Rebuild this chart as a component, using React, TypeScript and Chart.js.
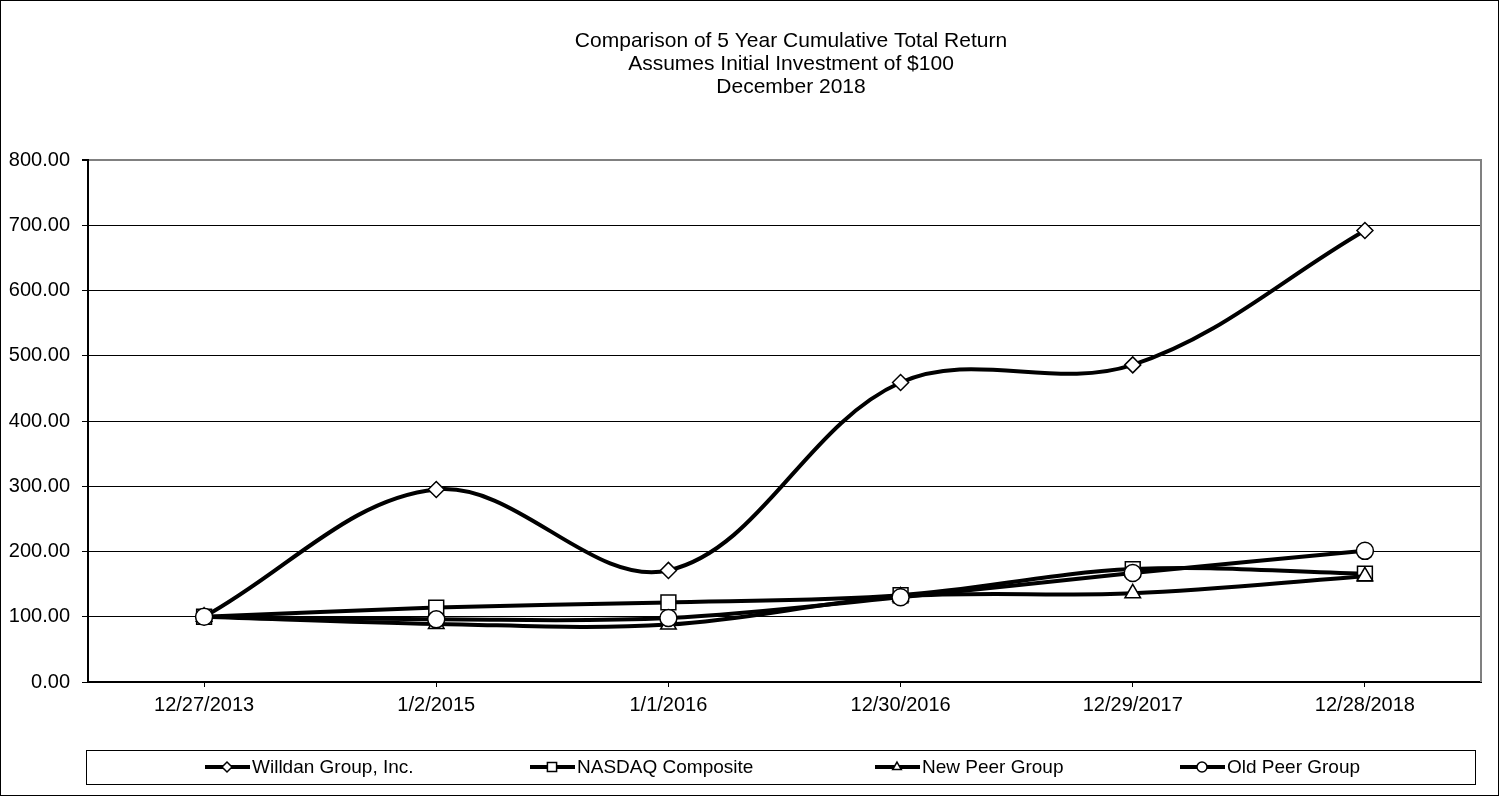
import React, { useEffect, useRef } from 'react';
import { Chart, registerables } from 'chart.js';
import { drawPoint } from 'chart.js/helpers';

Chart.register(...registerables);

const categories = ['12/27/2013', '1/2/2015', '1/1/2016', '12/30/2016', '12/29/2017', '12/28/2018'];
const willdan = [100, 295, 171, 459, 486, 692];
const nasdaq = [100, 114, 122, 133, 173, 166];
const newPeer = [100, 89, 88, 131, 136, 162];
const oldPeer = [100, 96, 98, 130, 167, 201];
const seriesNames = ['Willdan Group, Inc.', 'NASDAQ Composite', 'New Peer Group', 'Old Peer Group'];
const titleLines = ['Comparison of 5 Year Cumulative Total Return', 'Assumes Initial Investment of $100', 'December 2018'];
const yMin = 0;
const yMax = 800;
const yStep = 100;

const FONT = '"Liberation Sans", Arial, sans-serif';
const W = 1500;
const H = 797;

const pointStyles = ['rectRot', 'rect', 'triangle', 'circle'];
const pointRadii = [8, 10.5, 9, 8.5];
const legendStarts = [205, 530, 875, 1180];

const framePlugin = {
  id: 'framePlugin',
  beforeDraw(chart: any) {
    const ctx = chart.ctx;
    ctx.save();
    ctx.fillStyle = '#fff';
    ctx.fillRect(0, 0, chart.width, chart.height);
    ctx.restore();
  },
  afterDraw(chart: any) {
    const ctx = chart.ctx;
    const ca = chart.chartArea;
    ctx.save();
    // right plot border (grey)
    ctx.strokeStyle = '#808080';
    ctx.lineWidth = 2;
    ctx.beginPath();
    ctx.moveTo(ca.right, ca.top - 1);
    ctx.lineTo(ca.right, ca.bottom);
    ctx.stroke();
    // outer border
    ctx.strokeStyle = '#000';
    ctx.lineWidth = 1;
    ctx.strokeRect(0.5, 0.5, 1498, 795);
    // titles
    ctx.fillStyle = '#000';
    ctx.font = `21px ${FONT}`;
    ctx.textAlign = 'center';
    ctx.textBaseline = 'middle';
    const tys = [41, 64, 87];
    titleLines.forEach((t, i) => ctx.fillText(t, 791, tys[i]));
    // legend
    ctx.strokeStyle = '#000';
    ctx.lineWidth = 1;
    ctx.strokeRect(86.5, 750.5, 1389, 34);
    const ly = 767;
    ctx.font = `19px ${FONT}`;
    ctx.textAlign = 'left';
    chart.data.datasets.forEach((ds: any, i: number) => {
      const x0 = legendStarts[i];
      ctx.strokeStyle = '#000';
      ctx.lineWidth = 4;
      ctx.beginPath();
      ctx.moveTo(x0, ly);
      ctx.lineTo(x0 + 45, ly);
      ctx.stroke();
      ctx.fillStyle = '#fff';
      ctx.strokeStyle = '#000';
      ctx.lineWidth = 1.5;
      drawPoint(ctx, { pointStyle: ds.pointStyle, radius: ds.pointStyle === 'rect' ? 6.5 : 5, rotation: 0, borderWidth: 1.5 }, x0 + 22, ly);
      ctx.fillStyle = '#000';
      ctx.fillText(ds.label, x0 + 47, ly + 1);
    });
    ctx.restore();
  },
};

export default function App() {
  const ref = useRef<HTMLCanvasElement>(null);
  useEffect(() => {
    const seriesValues = [willdan, nasdaq, newPeer, oldPeer];
    const orders = [3, 2, 1, 0];
    const chart = new Chart(ref.current as HTMLCanvasElement, {
      type: 'line',
      data: {
        labels: categories,
        datasets: seriesValues.map((vals, i) => ({
          label: seriesNames[i],
          data: vals,
          borderColor: '#000',
          borderWidth: 4,
          tension: 0.36,
          fill: false,
          pointStyle: pointStyles[i] as any,
          pointRadius: pointRadii[i],
          pointBackgroundColor: '#fff',
          pointBorderColor: '#000',
          pointBorderWidth: 1.5,
          order: orders[i],
        })),
      },
      options: {
        animation: false,
        responsive: false,
        devicePixelRatio: 1,
        layout: { padding: { left: 0, right: 19, top: 160, bottom: 75 } },
        plugins: {
          legend: { display: false },
          title: { display: false },
          tooltip: { enabled: false },
        },
        scales: {
          x: {
            type: 'category',
            offset: true,
            afterFit(scale: any) { scale.height = 40; },
            grid: { drawOnChartArea: false, drawTicks: true, tickLength: 5, color: '#000', offset: false },
            border: { color: '#000', width: 2 },
            ticks: { color: '#000', font: { family: FONT, size: 20 }, padding: 6, maxRotation: 0, autoSkip: false },
          },
          y: {
            min: yMin,
            max: yMax,
            afterFit(scale: any) { scale.width = 88; },
            grid: {
              color: (c: any) => (c.tick && c.tick.value === yMax ? '#808080' : '#000'),
              lineWidth: (c: any) => (c.tick && c.tick.value === yMax ? 2 : 1),
              tickColor: '#000',
              tickLength: 6,
            },
            border: { color: '#000', width: 2 },
            ticks: {
              stepSize: yStep,
              color: '#000',
              font: { family: FONT, size: 20 },
              padding: 12,
              callback: (v: any) => Number(v).toFixed(2),
            },
          },
        },
      },
      plugins: [framePlugin],
    });
    return () => chart.destroy();
  }, []);
  return (
    <div style={{ position: 'absolute', left: 0, top: 0, width: W, height: H, background: '#fff' }}>
      <canvas ref={ref} width={W} height={H} style={{ display: 'block', width: W, height: H }} />
    </div>
  );
}
